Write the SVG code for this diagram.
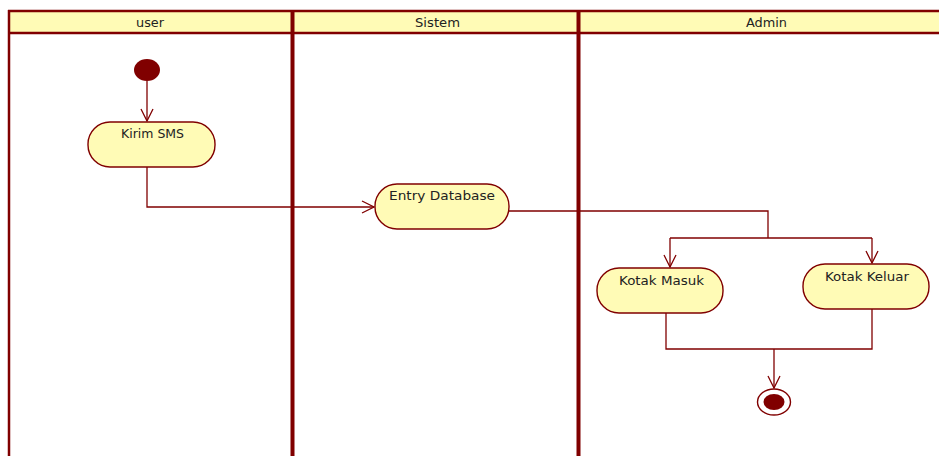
<svg xmlns="http://www.w3.org/2000/svg" width="939" height="456" viewBox="0 0 939 456">
  <style>
    .lane { stroke: #800000; fill: none; }
    .head { fill: #FFFBB6; }
    .act { fill: #FFFBB6; stroke: #800000; stroke-width: 1.4; }
    .lbl { font-family: "DejaVu Sans", Verdana, sans-serif; font-size: 11.5px; fill: #222222; }
    .hlbl { font-family: "DejaVu Sans", Verdana, sans-serif; font-size: 11.5px; fill: #222222; }
    .flow { stroke: #800000; stroke-width: 1.3; fill: none; }
  </style>
  <defs>
    <!-- open V arrowhead for control flows -->
    <marker id="open" viewBox="0 0 14 14" refX="13" refY="7" markerWidth="14" markerHeight="14" markerUnits="userSpaceOnUse" orient="auto">
      <path d="M1,1 L13,7 L1,13" fill="none" stroke="#800000" stroke-width="1.3"/>
    </marker>
  </defs>
  <rect width="939" height="456" fill="#FFFFFF"/>

  <!-- swimlanes -->
  <g id="lanes">
    <rect class="head" x="9" y="11" width="930" height="22"/>
    <line class="lane" x1="8" y1="11" x2="939" y2="11" stroke-width="2.5"/>
    <line class="lane" x1="8" y1="33" x2="939" y2="33" stroke-width="2.5"/>
    <line class="lane" x1="9" y1="10" x2="9" y2="456" stroke-width="2.5"/>
    <line class="lane" x1="292.5" y1="10" x2="292.5" y2="456" stroke-width="4"/>
    <line class="lane" x1="578.5" y1="10" x2="578.5" y2="456" stroke-width="4"/>
    <text class="hlbl" x="136" y="26.5" textLength="28" lengthAdjust="spacingAndGlyphs">user</text>
    <text class="hlbl" x="415" y="26.5" textLength="45" lengthAdjust="spacingAndGlyphs">Sistem</text>
    <text class="hlbl" x="746" y="26.5" textLength="41" lengthAdjust="spacingAndGlyphs">Admin</text>
  </g>

  <!-- connectors -->
  <g id="connectors">
    <path class="flow" d="M147,81 V121" marker-end="url(#open)"/>
    <path class="flow" d="M147,167 V207 H374" marker-end="url(#open)"/>
    <path class="flow" d="M509,211 H768 V238"/>
    <path class="flow" d="M670,238 H872"/>
    <path class="flow" d="M670,238 V267" marker-end="url(#open)"/>
    <path class="flow" d="M872,238 V263" marker-end="url(#open)"/>
    <path class="flow" d="M666,313 V349 H872 V309"/>
    <path class="flow" d="M774,349 V388" marker-end="url(#open)"/>
  </g>

  <g id="start">
    <ellipse cx="147" cy="70" rx="13" ry="11" fill="#800000"/>
  </g>

  <g id="kirim-sms">
    <rect class="act" x="88" y="122" width="127" height="45" rx="22" ry="22"/>
    <text class="lbl" x="121" y="138" textLength="63" lengthAdjust="spacingAndGlyphs">Kirim SMS</text>
  </g>

  <g id="entry-database">
    <rect class="act" x="375" y="184" width="134" height="45" rx="22" ry="22"/>
    <text class="lbl" x="389" y="200" textLength="106" lengthAdjust="spacingAndGlyphs">Entry Database</text>
  </g>

  <g id="kotak-masuk">
    <rect class="act" x="597" y="268" width="126" height="45" rx="22" ry="22"/>
    <text class="lbl" x="619" y="285" textLength="85" lengthAdjust="spacingAndGlyphs">Kotak Masuk</text>
  </g>

  <g id="kotak-keluar">
    <rect class="act" x="803" y="264" width="126" height="45" rx="22" ry="22"/>
    <text class="lbl" x="825" y="281" textLength="84" lengthAdjust="spacingAndGlyphs">Kotak Keluar</text>
  </g>

  <g id="end">
    <ellipse cx="774" cy="402" rx="16.5" ry="13" fill="#FFFFFF" stroke="#800000" stroke-width="1.4"/>
    <ellipse cx="774" cy="402" rx="10.5" ry="8" fill="#800000"/>
  </g>
</svg>
